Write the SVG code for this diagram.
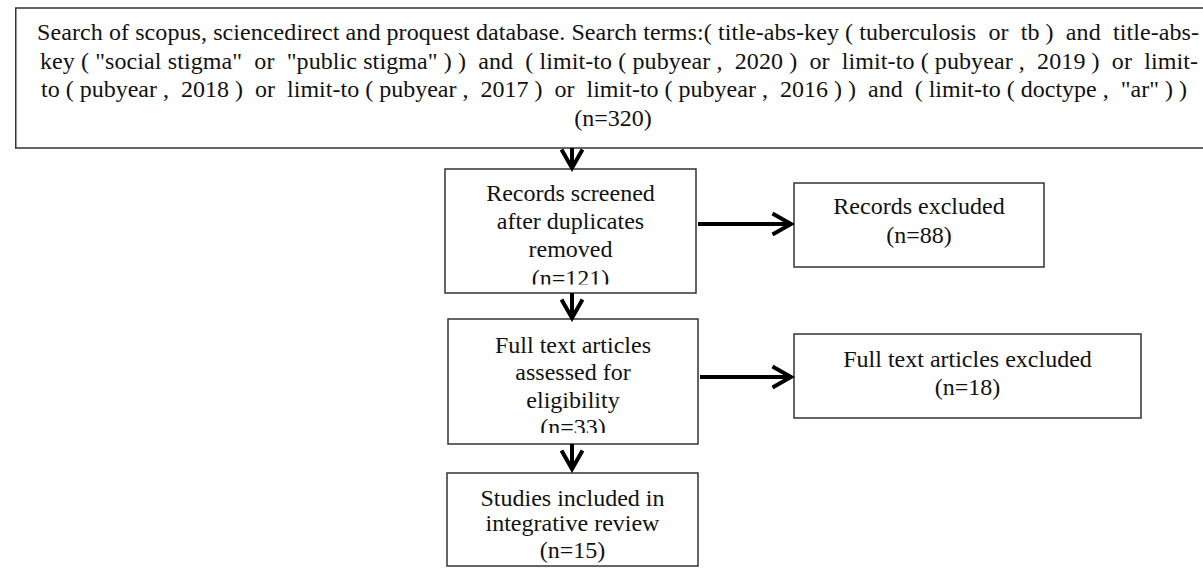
<svg xmlns="http://www.w3.org/2000/svg" width="1203" height="568" viewBox="0 0 1203 568">
  <style>
    .box { fill: #ffffff; stroke: #333333; stroke-width: 1.5; }
    .t { font-family: "Liberation Serif", "Times New Roman", serif; font-size: 24px; fill: #111111; }
    .c { text-anchor: middle; }
    .arrow { stroke: #000000; stroke-width: 4; fill: none; marker-end: url(#chev); }
  </style>
  <defs>
    <marker id="chev" markerUnits="userSpaceOnUse" viewBox="0 0 26 26" markerWidth="26" markerHeight="26" refX="22" refY="13" orient="auto">
      <path d="M3.5,2.5 L22,13 L3.5,23.5" fill="none" stroke="#000000" stroke-width="4" stroke-linejoin="miter" stroke-miterlimit="6"/>
    </marker>
    <clipPath id="clipScreened"><rect x="446" y="170" width="249" height="114.5"/></clipPath>
    <clipPath id="clipFull"><rect x="449" y="320" width="248" height="113"/></clipPath>
  </defs>
  <rect width="1203" height="568" fill="#ffffff"/>

  <g id="search">
    <rect class="box" x="15.75" y="8" width="1200" height="140"/>
    <text class="t" x="37" y="40" textLength="1162" lengthAdjust="spacing" xml:space="preserve">Search of scopus, sciencedirect and proquest database. Search terms:( title-abs-key ( tuberculosis  or  tb )  and  title-abs-</text>
    <text class="t" x="40" y="68.5" textLength="1158" lengthAdjust="spacing" xml:space="preserve">key ( "social stigma"  or  "public stigma" ) )  and  ( limit-to ( pubyear ,  2020 )  or  limit-to ( pubyear ,  2019 )  or  limit-</text>
    <text class="t" x="41" y="97" textLength="1146" lengthAdjust="spacing" xml:space="preserve">to ( pubyear ,  2018 )  or  limit-to ( pubyear ,  2017 )  or  limit-to ( pubyear ,  2016 ) )  and  ( limit-to ( doctype ,  "ar" ) )</text>
    <text class="t c" x="613" y="125.5">(n=320)</text>
  </g>

  <g id="screened">
    <rect class="box" x="445" y="169" width="251" height="124"/>
    <g clip-path="url(#clipScreened)">
      <text class="t c" x="570.5" y="201">Records screened</text>
      <text class="t c" x="570.5" y="229">after duplicates</text>
      <text class="t c" x="570.5" y="257">removed</text>
      <text class="t c" x="570.5" y="286">(n=121)</text>
    </g>
  </g>

  <g id="excluded">
    <rect class="box" x="794" y="183" width="250" height="84"/>
    <text class="t c" x="919" y="214">Records excluded</text>
    <text class="t c" x="919" y="243">(n=88)</text>
  </g>

  <g id="fulltext">
    <rect class="box" x="448" y="319" width="250" height="125"/>
    <g clip-path="url(#clipFull)">
      <text class="t c" x="573" y="353">Full text articles</text>
      <text class="t c" x="573" y="380">assessed for</text>
      <text class="t c" x="573" y="408">eligibility</text>
      <text class="t c" x="573" y="435">(n=33)</text>
    </g>
  </g>

  <g id="fulltext-excluded">
    <rect class="box" x="794" y="334" width="347" height="84"/>
    <text class="t c" x="967.5" y="367">Full text articles excluded</text>
    <text class="t c" x="967.5" y="395">(n=18)</text>
  </g>

  <g id="included">
    <rect class="box" x="447" y="473" width="251" height="93"/>
    <text class="t c" x="572.5" y="506">Studies included in</text>
    <text class="t c" x="572.5" y="531">integrative review</text>
    <text class="t c" x="572.5" y="558">(n=15)</text>
  </g>

  <g id="connectors">
    <line class="arrow" x1="572" y1="148" x2="572" y2="168"/>
    <line class="arrow" x1="572" y1="293" x2="572" y2="318"/>
    <line class="arrow" x1="572" y1="444" x2="572" y2="469"/>
    <line class="arrow" x1="698" y1="224" x2="791" y2="224"/>
    <line class="arrow" x1="700" y1="377" x2="791" y2="377"/>
  </g>
</svg>
